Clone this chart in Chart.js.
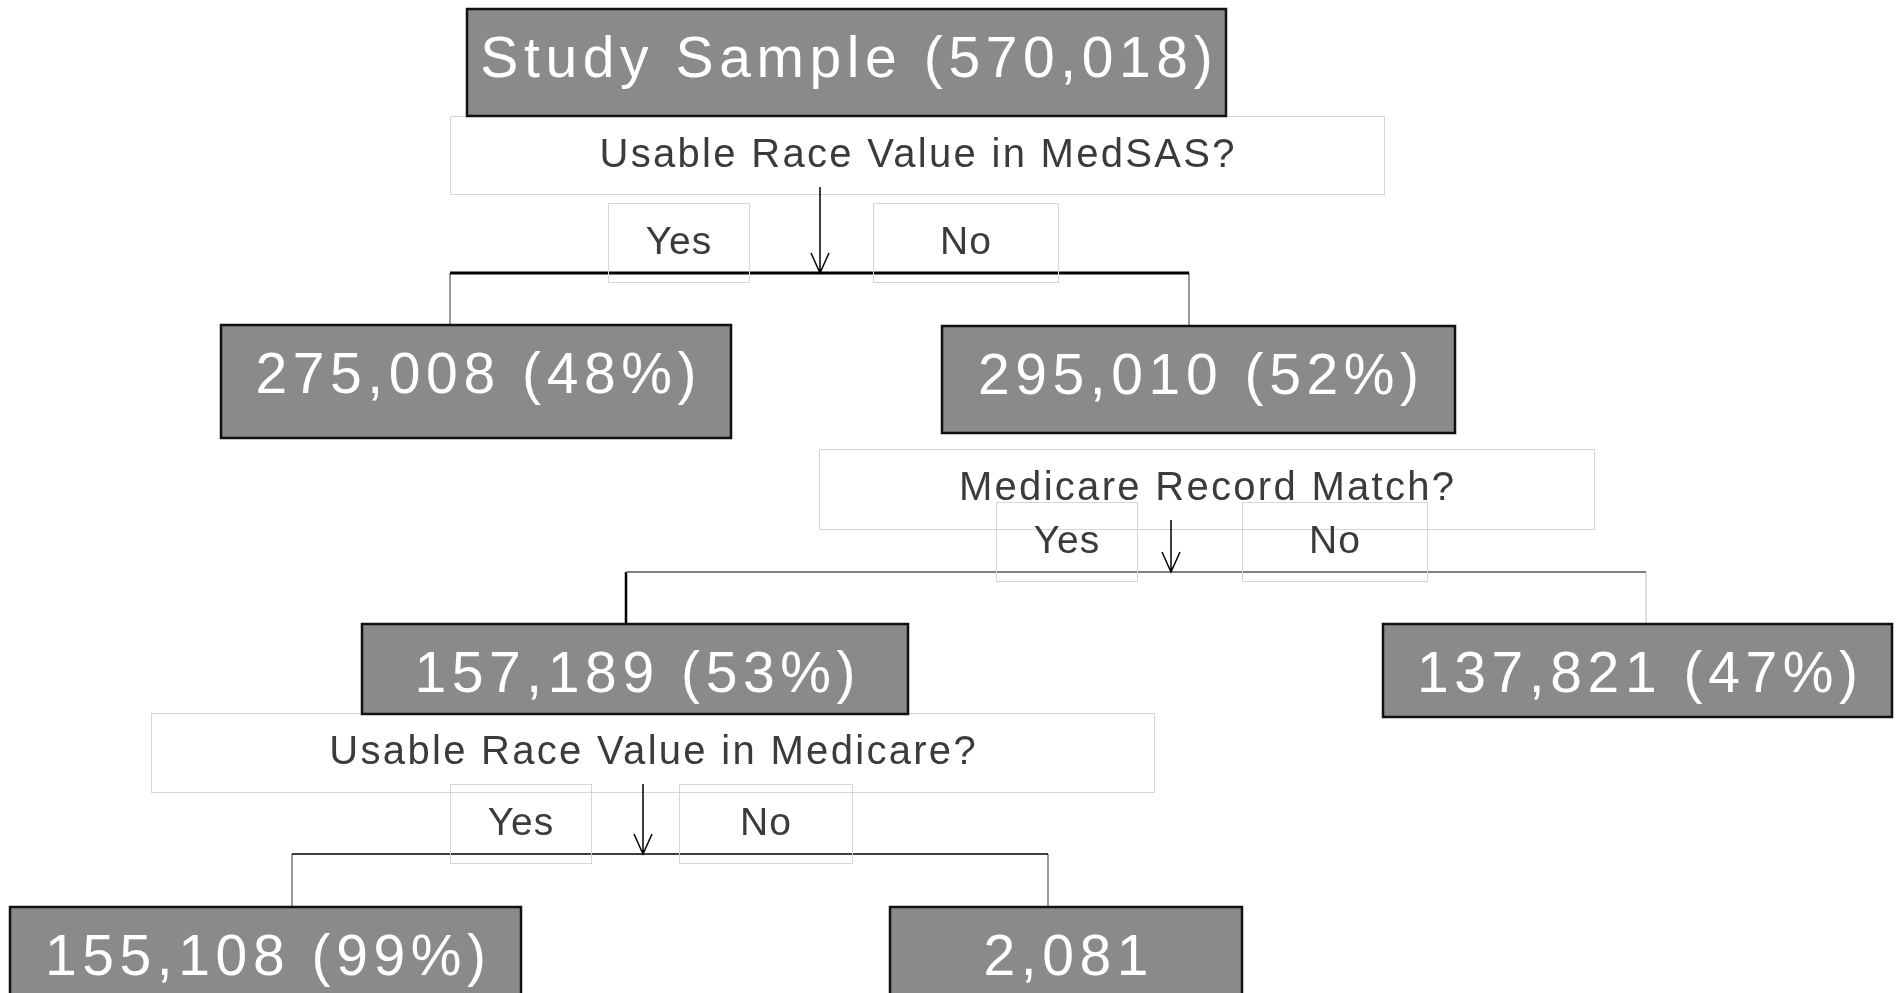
<!DOCTYPE html>
<html>
<head>
<meta charset="utf-8">
<script src="https://cdn.jsdelivr.net/npm/chart.js@4.4.1/dist/chart.umd.min.js"></script>
<style>
  html, body { margin: 0; padding: 0; background: #ffffff; }
  #wrap { width: 1898px; height: 993px; position: relative; }
</style>
</head>
<body>
<div id="wrap"><canvas id="c"></canvas></div>
<script>
// ---------------- data ----------------
const nodePrefix   = ["Study Sample", "", "", "", "", "", ""];
const nodeCounts   = [570018, 275008, 295010, 157189, 137821, 155108, 2081];
const nodePercents = [null, 48, 52, 53, 47, 99, null];
const questionLabels = ["Usable Race Value in MedSAS?", "Medicare Record Match?", "Usable Race Value in Medicare?"];
const branchLabels = ["Yes", "No"];
const splitParent = [0, 2, 3];
const splitYes    = [1, 3, 5];
const splitNo     = [2, 4, 6];

// ---------------- layout (scale units) ----------------
const nodeBoxes = [
  [467, 1226, 9, 116], [221, 731, 325, 438], [942, 1455, 326, 433],
  [362, 908, 624, 714], [1383, 1892, 624, 717], [10, 521, 907, 1010], [890, 1242, 907, 1010]
];
const questionBoxes = [[450, 1384, 116, 194], [819, 1594, 449, 529], [151, 1154, 713, 792]];
const yesBoxes = [[608, 749, 203, 282], [996, 1137, 502, 581], [450, 591, 784, 863]];
const noBoxes  = [[873, 1058, 203, 282], [1242, 1427, 502, 581], [679, 852, 784, 863]];
const arrows   = [[820, 187, 273], [1171, 520, 572], [643, 784, 854]];
const buses = [
  {x0: 450, x1: 1189, y: 273, w: 3, c: '#000000',
   drops: [{x: 450, y1: 325, w: 1, c: '#333333'}, {x: 1189, y1: 328, w: 1, c: '#333333'}]},
  {x0: 626, x1: 1646, y: 572, w: 2, c: '#808080',
   drops: [{x: 626, y1: 624, w: 2.5, c: '#000000'}, {x: 1646, y1: 624, w: 1, c: '#bfbfbf'}]},
  {x0: 292, x1: 1048, y: 854, w: 1.5, c: '#000000',
   drops: [{x: 292, y1: 907, w: 1, c: '#333333'}, {x: 1048, y1: 907, w: 1, c: '#333333'}]}
];

const FONT = '"Liberation Sans", Arial, sans-serif';

function fmt(n) { return n.toLocaleString('en-US'); }
function nodeLabel(i) {
  let s = fmt(nodeCounts[i]);
  if (nodePrefix[i]) s = nodePrefix[i] + ' (' + s + ')';
  else if (nodePercents[i] !== null) s += ' (' + nodePercents[i] + '%)';
  return s;
}

const flowPlugin = {
  id: 'flow',
  afterDatasetsDraw(chart) {
    const ctx = chart.ctx;
    const xs = chart.scales.x, ys = chart.scales.y;
    const X = v => xs.getPixelForValue(v);
    const Y = v => ys.getPixelForValue(v);

    function text(str, cx, baseline, size, color, spacing) {
      ctx.save();
      ctx.font = size + 'px ' + FONT;
      ctx.fillStyle = color;
      ctx.textAlign = 'center';
      ctx.textBaseline = 'alphabetic';
      ctx.letterSpacing = spacing + 'px';
      ctx.fillText(str, cx + spacing / 2, baseline);
      ctx.restore();
    }
    function outline(b, color, w) {
      ctx.save();
      ctx.strokeStyle = color; ctx.lineWidth = w;
      ctx.strokeRect(X(b[0]) + 0.5, Y(b[2]) + 0.5, X(b[1]) - X(b[0]), Y(b[3]) - Y(b[2]));
      ctx.restore();
    }
    function line(x0, y0, x1, y1, w, c) {
      ctx.save();
      ctx.strokeStyle = c; ctx.lineWidth = w;
      ctx.beginPath(); ctx.moveTo(X(x0), Y(y0)); ctx.lineTo(X(x1), Y(y1)); ctx.stroke();
      ctx.restore();
    }

    // connectors
    buses.forEach(b => {
      b.drops.forEach(d => line(d.x, b.y, d.x, d.y1, d.w, d.c));
      line(b.x0, b.y, b.x1, b.y, b.w, b.c);
    });

    // question boxes
    questionBoxes.forEach((b, i) => {
      outline(b, '#d6d6d6', 1);
      text(questionLabels[i], (X(b[0]) + X(b[1])) / 2, Y(b[2]) + 51, 40, '#3b3b3b', 2.3);
    });
    // yes / no boxes
    [yesBoxes, noBoxes].forEach((set, k) => {
      set.forEach(b => {
        outline(b, '#d6d6d6', 1);
        text(branchLabels[k], (X(b[0]) + X(b[1])) / 2, Y(b[2]) + 51, 39, '#3b3b3b', 1);
      });
    });

    // arrows
    arrows.forEach(a => {
      const x = X(a[0]), y0 = Y(a[1]), y1 = Y(a[2]);
      ctx.save();
      ctx.strokeStyle = '#000'; ctx.lineWidth = 1.5;
      ctx.beginPath();
      ctx.moveTo(x, y0); ctx.lineTo(x, y1);
      ctx.moveTo(x - 9, y1 - 20); ctx.lineTo(x, y1); ctx.lineTo(x + 9, y1 - 20);
      ctx.stroke();
      ctx.restore();
    });

    // count nodes
    nodeBoxes.forEach((b, i) => {
      const x0 = X(b[0]), x1 = X(b[1]), y0 = Y(b[2]), y1 = Y(b[3]);
      ctx.save();
      ctx.fillStyle = '#8a8a8a';
      ctx.fillRect(x0, y0, x1 - x0, y1 - y0);
      ctx.strokeStyle = '#111111'; ctx.lineWidth = 2.5;
      ctx.strokeRect(x0, y0, x1 - x0, y1 - y0);
      ctx.restore();
      text(nodeLabel(i), (x0 + x1) / 2, y0 + 68, 57, '#ffffff', 5.6);
    });
  }
};

new Chart(document.getElementById('c'), {
  type: 'scatter',
  data: {
    datasets: [{
      data: nodeBoxes.map((b, i) => ({x: (b[0] + b[1]) / 2, y: (b[2] + b[3]) / 2, v: nodeCounts[i]})),
      pointRadius: 0, pointHoverRadius: 0
    }]
  },
  options: {
    responsive: true, maintainAspectRatio: false, animation: false,
    devicePixelRatio: 1,
    layout: { padding: 0 },
    plugins: { legend: { display: false }, tooltip: { enabled: false } },
    events: [],
    scales: {
      x: { type: 'linear', min: 0, max: 1898, display: false },
      y: { type: 'linear', min: 0, max: 993, reverse: true, display: false }
    }
  },
  plugins: [flowPlugin]
});
</script>
</body>
</html>
